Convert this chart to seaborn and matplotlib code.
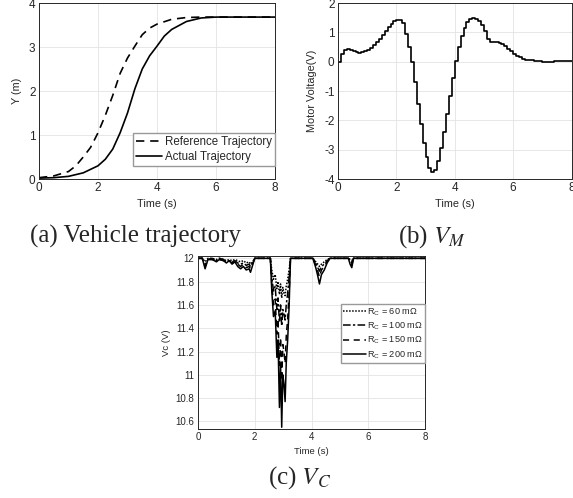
import numpy as np
import pandas as pd
import matplotlib
matplotlib.use("Agg")
import matplotlib.pyplot as plt
import seaborn as sns

# (a) vehicle trajectory
t_ref = [0, 0.5, 1, 1.25, 1.5, 1.75, 2, 2.25, 2.5, 2.75, 3, 3.25, 3.5, 3.75, 4, 4.5, 5, 5.5, 6, 8]
y_ref = [0.03, 0.07, 0.17, 0.3, 0.5, 0.72, 1.05, 1.45, 1.9, 2.4, 2.75, 3.02, 3.28, 3.43, 3.52, 3.63, 3.67, 3.68, 3.68, 3.68]
t_act = [0, 0.5, 1, 1.5, 2, 2.25, 2.5, 2.75, 3, 3.25, 3.5, 3.75, 4, 4.25, 4.5, 5, 5.5, 6, 8]
y_act = [0.02, 0.03, 0.06, 0.14, 0.3, 0.45, 0.68, 1.05, 1.5, 2.05, 2.5, 2.8, 3.02, 3.25, 3.4, 3.58, 3.66, 3.68, 3.68]

# (b) motor voltage, one value every 0.1 s (0 .. 8 s)
vm = [0.0, 0.26, 0.39, 0.42, 0.39, 0.35, 0.32, 0.30, 0.32, 0.35,
      0.41, 0.47, 0.56, 0.67, 0.77, 0.90, 1.03, 1.17, 1.30, 1.40,
      1.43, 1.41, 1.32, 0.93, 0.49, -0.02, -0.70, -1.43, -2.12, -2.76,
      -3.26, -3.61, -3.75, -3.69, -3.37, -2.95, -2.40, -1.78, -1.16, -0.54,
      0.01, 0.49, 0.86, 1.15, 1.35, 1.45, 1.48, 1.47, 1.38, 1.26,
      1.03, 0.77, 0.67, 0.67, 0.66, 0.65, 0.61, 0.52, 0.43, 0.35,
      0.27, 0.20, 0.15, 0.10, 0.07, 0.05, 0.04, 0.02, 0.02, 0.01,
      0.0, 0.0, 0.0, 0.0, 0.01, 0.01, 0.01, 0.01, 0.01, 0.01, 0.01]
t_vm = [k / 10 for k in range(len(vm))]

# (c) capacitor voltage for four R_C values
t_c = [0, 0.15, 0.25, 0.35, 0.5, 0.65, 0.75, 0.9, 1.0, 1.1, 1.2, 1.3, 1.4, 1.5, 1.6, 1.7, 1.8, 1.85, 1.95, 2.0,
       2.55, 2.6, 2.66, 2.72, 2.78, 2.82, 2.87, 2.91, 2.95, 2.99, 3.03, 3.07, 3.11, 3.16, 3.21, 3.26,
       4.05, 4.15, 4.22, 4.28, 4.35, 4.45, 4.55, 4.65, 5.3, 5.36, 5.42, 5.48, 8.0]
vc_60 = [12, 12, 11.97, 12, 12, 11.99, 12, 11.99, 11.98, 11.99, 11.98, 11.99, 11.98, 11.97, 11.98, 11.96, 11.97, 11.95, 11.98, 12,
         12, 11.9, 11.82, 11.86, 11.74, 11.8, 11.69, 11.78, 11.66, 11.75, 11.7, 11.68, 11.76, 11.82, 11.9, 12,
         12, 11.97, 11.95, 11.93, 11.95, 11.97, 11.99, 12, 12, 11.99, 11.98, 12, 12]
vc_100 = [12, 12, 11.95, 11.99, 12, 11.98, 12, 11.99, 11.97, 11.98, 11.97, 11.98, 11.96, 11.95, 11.96, 11.94, 11.95, 11.93, 11.97, 12,
          12, 11.84, 11.72, 11.76, 11.56, 11.66, 11.45, 11.6, 11.42, 11.56, 11.52, 11.47, 11.6, 11.7, 11.84, 12,
          12, 11.96, 11.92, 11.89, 11.93, 11.95, 11.98, 12, 12, 11.98, 11.96, 12, 12]
vc_150 = [12, 12, 11.93, 11.99, 11.99, 11.98, 11.99, 11.98, 11.97, 11.98, 11.96, 11.97, 11.95, 11.93, 11.95, 11.92, 11.93, 11.91, 11.97, 12,
          12, 11.78, 11.6, 11.65, 11.35, 11.48, 11.08, 11.32, 10.95, 11.26, 11.2, 11.1, 11.33, 11.48, 11.7, 12,
          12, 11.94, 11.89, 11.84, 11.9, 11.93, 11.97, 12, 12, 11.97, 11.94, 12, 12]
vc_200 = [12, 12, 11.91, 11.99, 11.99, 11.97, 11.99, 11.98, 11.96, 11.98, 11.95, 11.97, 11.93, 11.91, 11.93, 11.9, 11.91, 11.88, 11.96, 12,
          12, 11.72, 11.5, 11.55, 11.15, 11.3, 10.72, 11.1, 10.55, 11.0, 10.92, 10.77, 11.1, 11.3, 11.58, 12,
          12, 11.92, 11.85, 11.78, 11.86, 11.9, 11.96, 12, 12, 11.95, 11.92, 12, 12]
rc_labels = [r"R$_\mathregular{C}$ = 60 m$\Omega$", r"R$_\mathregular{C}$ = 100 m$\Omega$",
             r"R$_\mathregular{C}$ = 150 m$\Omega$", r"R$_\mathregular{C}$ = 200 m$\Omega$"]

sns.set_style("whitegrid", {"axes.edgecolor": "#262626", "grid.color": "#e3e3e3",
                            "xtick.direction": "in", "ytick.direction": "in"})
plt.rcParams["font.family"] = ["Liberation Sans", "DejaVu Sans"]
plt.rcParams["mathtext.fontset"] = "custom"
plt.rcParams["mathtext.rm"] = "Liberation Sans"
plt.rcParams["axes.unicode_minus"] = False
plt.rcParams["axes.linewidth"] = 0.7

W, H = 573, 498
fig = plt.figure(figsize=(W / 100, H / 100), dpi=100)


def px_axes(l, t, r, b):
    return fig.add_axes([l / W, 1 - b / H, (r - l) / W, (b - t) / H])


def style(ax, fs):
    ax.tick_params(labelsize=fs, length=2, width=0.6, pad=2.5, colors="#262626")
    for s in ax.spines.values():
        s.set_color("#262626")
    ax.grid(True, lw=0.6)


# ---- (a)
ax1 = px_axes(39, 3, 275, 179)
sns.lineplot(x=t_ref, y=y_ref, ax=ax1, color="black", lw=1.2, linestyle=(0, (5, 3.5)),
             label="Reference Trajectory")
sns.lineplot(x=t_act, y=y_act, ax=ax1, color="black", lw=1.2, label="Actual Trajectory")
ax1.set_xlim(0, 8)
ax1.set_ylim(0, 4)
ax1.set_xticks([0, 2, 4, 6, 8])
ax1.set_yticks([0, 1, 2, 3, 4])
ax1.set_xlabel("Time (s)", fontsize=7.8, labelpad=3)
ax1.set_ylabel("Y (m)", fontsize=7.8, labelpad=5)
style(ax1, 8.5)
ax1.legend(loc="lower right", bbox_to_anchor=(1, 0.074), fontsize=8.3, frameon=True,
           fancybox=False, edgecolor="#999999", framealpha=1, borderaxespad=0,
           handlelength=2.2, handletextpad=0.3, borderpad=0.25, labelspacing=0.3)

# ---- (b)
ax2 = px_axes(338, 3, 571.5, 179)
sns.lineplot(x=t_vm, y=vm, ax=ax2, color="black", lw=1.2, drawstyle="steps-post")
ax2.set_xlim(0, 8)
ax2.set_ylim(-4, 2)
ax2.set_xticks([0, 2, 4, 6, 8])
ax2.set_yticks([-4, -3, -2, -1, 0, 1, 2])
ax2.set_xlabel("Time (s)", fontsize=7.8, labelpad=3)
ax2.set_ylabel("Motor Voltage(V)", fontsize=7.8, labelpad=5)
style(ax2, 8.5)

# ---- (c)
ax3 = px_axes(198, 256, 425, 429)
styles = [(0, (1, 1)), (0, (5, 1.5, 1.5, 1.5)), (0, (4, 3)), "-"]
for vals, lab, ls in zip([vc_60, vc_100, vc_150, vc_200], rc_labels, styles):
    sns.lineplot(x=t_c, y=vals, ax=ax3, color="black", lw=1.1, linestyle=ls, label=lab)
ax3.set_xlim(0, 8)
ax3.set_ylim(10.535, 12.02)
ax3.set_xticks([0, 2, 4, 6, 8])
ax3.set_yticks([10.6, 10.8, 11, 11.2, 11.4, 11.6, 11.8, 12])
ax3.set_yticklabels(["10.6", "10.8", "11", "11.2", "11.4", "11.6", "11.8", "12"])
ax3.set_xlabel("Time (s)", fontsize=6.8, labelpad=3)
ax3.set_ylabel("Vc (V)", fontsize=6.8, labelpad=3)
style(ax3, 7)
ax3.legend(loc="upper right", bbox_to_anchor=(1, 0.7225), fontsize=6.6, frameon=True,
           fancybox=False, edgecolor="#999999", framealpha=1, borderaxespad=0,
           handlelength=2.5, handletextpad=0.1, borderpad=0.25, labelspacing=0.3)

# captions
cap = dict(fontsize=18, family=["Liberation Serif", "DejaVu Serif"], ha="center", va="center")
plt.rcParams["mathtext.fontset"] = "stix"
fig.text(135 / W, 1 - 236 / H, "(a) Vehicle trajectory", **cap)
fig.text(432 / W, 1 - 237 / H, r"(b) $V_M$", **cap)
fig.text(300 / W, 1 - 478 / H, r"(c) $V_C$", **cap)

fig.savefig("out.png", dpi=100)
